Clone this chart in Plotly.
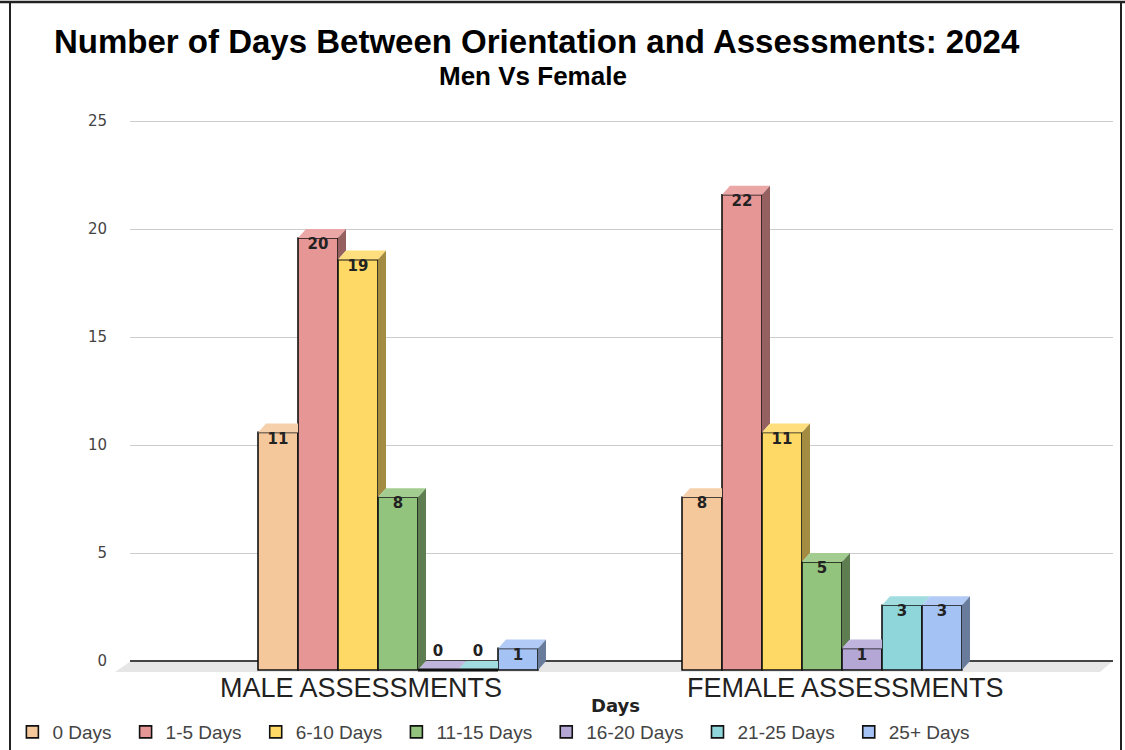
import plotly.graph_objects as go

# ---------------- data ----------------
groups = ["MALE ASSESSMENTS", "FEMALE ASSESSMENTS"]
series = ["0 Days", "1-5 Days", "6-10 Days", "11-15 Days", "16-20 Days", "21-25 Days", "25+ Days"]
male = [11, 20, 19, 8, 0, 0, 1]
female = [8, 22, 11, 5, 1, 3, 3]
yticks = [0, 5, 10, 15, 20, 25]
title = "Number of Days Between Orientation and Assessments: 2024"
subtitle = "Men Vs Female"
xtitle = "Days"

colors = ["#F5C89C", "#E79696", "#FFD966", "#93C47D", "#B4A7D6", "#8FD6DA", "#A4C2F4"]

# ---------------- layout geometry ----------------
W, H = 1125, 750
L, R, T, B = 130, 12, 117, 76
PW, PH = W - L - R, H - T - B
UNIT_PX = 21.6          # pixels per value unit
ZERO_PX = 661           # pixel row of value 0
GROUP_PX = 424          # pixels between group centers
FIRST_CENTER_PX = 398
BAR_PX = 40
DEPTH_X_PX, DEPTH_Y_PX = 8, 9

ymin = -(H - B - ZERO_PX) / UNIT_PX
ymax = ymin + PH / UNIT_PX
xmin = (L - FIRST_CENTER_PX) / GROUP_PX
xmax = xmin + PW / GROUP_PX
w = BAR_PX / GROUP_PX
dx = DEPTH_X_PX / GROUP_PX
dy = DEPTH_Y_PX / UNIT_PX


def px2x(px):
    return (px - L) / PW


def py2y(py):
    return (H - B - py) / PH


def val2y(v):
    return (v - ymin) / (ymax - ymin)


def shade(hexcol, f):
    r, g, b = int(hexcol[1:3], 16), int(hexcol[3:5], 16), int(hexcol[5:7], 16)
    if f < 1:
        r, g, b = r * f, g * f, b * f
    else:
        t = f - 1
        r, g, b = r + (255 - r) * t, g + (255 - g) * t, b + (255 - b) * t
    return "rgb(%d,%d,%d)" % (round(r), round(g), round(b))


fig = go.Figure()
values = [male, female]
LEGEND_PAD = "\u00a0\u2009"

# front faces (real bars)
for i, name in enumerate(series):
    fig.add_trace(go.Bar(
        x=[0, 1], y=[male[i], female[i]], base=-dy,
        width=w, offset=(i - 3.5) * w,
        name=name + LEGEND_PAD,
        marker=dict(color=colors[i], line=dict(color="#111111", width=1.6)),
        hoverinfo="skip",
    ))

# 3D top and side faces, derived from the values
for g, vals in enumerate(values):
    n = len(vals)
    for i, v in enumerate(vals):
        x0 = g + (i - 3.5) * w
        x1 = x0 + w
        vn = vals[i + 1] if i + 1 < n else None
        # top face
        if vn is not None and vn > v:
            tx = [x0, x1, x1, x0 + dx, x0]
        else:
            tx = [x0, x1, x1 + dx, x0 + dx, x0]
        ty = [v - dy, v - dy, v, v, v - dy]
        fig.add_trace(go.Scatter(x=tx, y=ty, mode="lines", fill="toself",
                                 fillcolor=shade(colors[i], 1.15), line=dict(width=0),
                                 showlegend=False, hoverinfo="skip"))
        # side face (visible part only)
        base = vn if vn is not None else 0
        if base < v:
            sx = [x1, x1, x1 + dx, x1 + dx, x1]
            sy = [base - dy, v - dy, v, base, base - dy]
            fig.add_trace(go.Scatter(x=sx, y=sy, mode="lines", fill="toself",
                                     fillcolor=shade(colors[i], 0.64), line=dict(width=0),
                                     showlegend=False, hoverinfo="skip"))
        if v == 0:
            fig.add_trace(go.Scatter(x=[x0, x1], y=[-dy, -dy], mode="lines",
                                     line=dict(color="#111111", width=3),
                                     showlegend=False, hoverinfo="skip"))

# data labels
lx, ly, lt, lp = [], [], [], []
for g, vals in enumerate(values):
    for i, v in enumerate(vals):
        lx.append(g + (i - 3.0) * w)
        lt.append(str(v))
        if v > 0:
            ly.append(v - dy)
            lp.append("bottom center")
        else:
            ly.append(0.05)
            lp.append("top center")
fig.add_trace(go.Scatter(x=lx, y=ly, text=lt, mode="text", textposition=lp,
                         textfont=dict(family="DejaVu Sans", size=15, color="#222222", weight="bold"),
                         showlegend=False, hoverinfo="skip"))

# floor
floor_path = "M %f %f L %f %f L %f %f L %f %f Z" % (
    px2x(131), val2y(0), px2x(1113), val2y(0),
    px2x(1100), py2y(672), px2x(115), py2y(672))

shapes = [
    dict(type="path", xref="paper", yref="paper", path=floor_path,
         fillcolor="#E6E6E6", line=dict(width=0), layer="below"),
    # frame around the image
    dict(type="line", xref="paper", yref="paper", x0=px2x(0), x1=px2x(1125), y0=py2y(2), y1=py2y(2),
         line=dict(color="#222222", width=2.5)),
    dict(type="line", xref="paper", yref="paper", x0=px2x(10), x1=px2x(10), y0=py2y(1), y1=py2y(750),
         line=dict(color="#222222", width=2)),
    dict(type="line", xref="paper", yref="paper", x0=px2x(1121), x1=px2x(1121), y0=py2y(1), y1=py2y(750),
         line=dict(color="#222222", width=2)),
]

label_px = [361, 845]
annotations = [
    dict(text="<b>%s</b>" % title, xref="paper", yref="paper", x=px2x(537), y=py2y(41),
         xanchor="center", yanchor="middle", showarrow=False,
         font=dict(family="Liberation Sans", size=33, color="#000000")),
    dict(text="<b>%s</b>" % subtitle, xref="paper", yref="paper", x=px2x(533), y=py2y(76),
         xanchor="center", yanchor="middle", showarrow=False,
         font=dict(family="Liberation Sans", size=26, color="#000000")),
    dict(text="<b>%s</b>" % xtitle, xref="paper", yref="paper", x=px2x(615), y=py2y(705),
         xanchor="center", yanchor="middle", showarrow=False,
         font=dict(family="DejaVu Sans", size=18, color="#222222")),
]
for g, lab in enumerate(groups):
    annotations.append(dict(text=lab, xref="paper", yref="paper", x=px2x(label_px[g]), y=py2y(688),
                            xanchor="center", yanchor="middle", showarrow=False,
                            font=dict(family="Liberation Sans", size=27, color="#222222")))

fig.update_layout(
    width=W, height=H,
    margin=dict(l=L, r=R, t=T, b=B, autoexpand=False),
    paper_bgcolor="white", plot_bgcolor="white",
    barmode="overlay",
    showlegend=True,
    legend=dict(orientation="h", xref="container", yref="container",
                x=0.011, xanchor="left", y=(H - 732) / H, yanchor="middle",
                font=dict(family="Liberation Sans", size=19, color="#444444"),
                itemclick=False, itemdoubleclick=False),
    xaxis=dict(range=[xmin, xmax], showgrid=False, zeroline=False, showticklabels=False,
               showline=False, ticks="", fixedrange=True),
    yaxis=dict(range=[ymin, ymax], tickvals=yticks, ticktext=[str(t) for t in yticks],
               showgrid=True, gridcolor="#CCCCCC", gridwidth=1,
               zeroline=True, zerolinecolor="#444444", zerolinewidth=1.5,
               showline=False, ticks="", ticklabelstandoff=22,
               tickfont=dict(family="DejaVu Sans", size=15, color="#444444"), fixedrange=True),
    shapes=shapes,
    annotations=annotations,
)

fig.write_html("out.html", config={"displayModeBar": False},
               post_script="document.body.style.margin='0px';")
